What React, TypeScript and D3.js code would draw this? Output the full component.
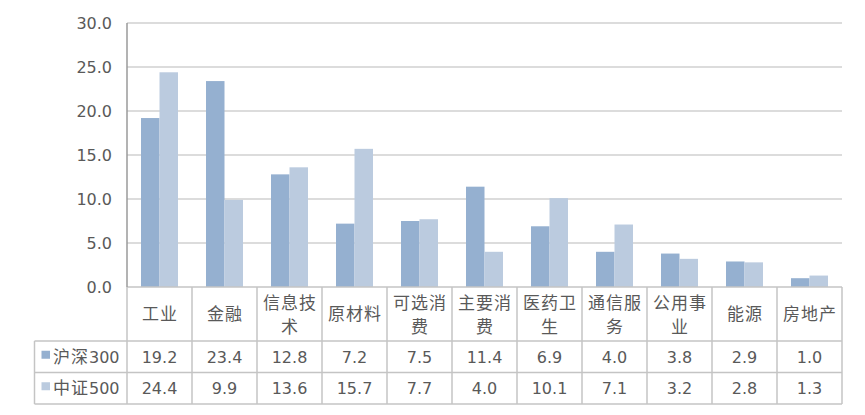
import React from "react";
import * as d3 from "d3";

const categories: string[][] = [
  ["工业"], ["金融"], ["信息技", "术"], ["原材料"], ["可选消", "费"], ["主要消", "费"],
  ["医药卫", "生"], ["通信服", "务"], ["公用事", "业"], ["能源"], ["房地产"],
];
const seriesNames = ["沪深", "中证"];
const seriesNums = ["300", "500"];
const hs300 = [19.2, 23.4, 12.8, 7.2, 7.5, 11.4, 6.9, 4.0, 3.8, 2.9, 1.0];
const zz500 = [24.4, 9.9, 13.6, 15.7, 7.7, 4.0, 10.1, 7.1, 3.2, 2.8, 1.3];
const yTicks = [0, 5, 10, 15, 20, 25, 30];
const colors = ["#95B0D0", "#BBCBDF"];

const W = 865, H = 415;
const left = 127, right = 842, top = 23, bottom = 287;
const rowTops = [287, 341, 372.5, 404];
const tableLeft = 34.5;
const textColor = "#595959";
const numFont = "'DejaVu Sans', 'Noto Sans CJK SC', sans-serif";
const cjkFont = "'Noto Sans CJK SC', sans-serif";
const gridColor = "#D0D0D0";

export default function App() {
  const x = d3.scaleBand<number>().domain(d3.range(categories.length)).range([left, right]).padding(0);
  const y = d3.scaleLinear().domain([0, 30]).range([bottom, top]);
  const bw = 18.5;
  const series = [hs300, zz500];
  const cx = (i: number) => (x(i) as number) + x.bandwidth() / 2;

  return (
    <svg width={W} height={H} style={{ display: "block", position: "absolute", left: 0, top: 0 }}>
      <rect x={0} y={0} width={W} height={H} fill="#fff" />
      {yTicks.map((t) => (
        <g key={t}>
          {t > 0 && (
            <line x1={left} x2={right} y1={y(t)} y2={y(t)} stroke={gridColor} strokeWidth={1.5} />
          )}
          <text x={112} y={y(t)} dy="0.36em" textAnchor="end" fontFamily={numFont} fontSize={16} fill={textColor}>
            {t.toFixed(1)}
          </text>
        </g>
      ))}
      {series.map((vals, s) =>
        vals.map((v, i) => (
          <rect
            key={`${s}-${i}`}
            x={cx(i) - bw + s * bw}
            y={y(v)}
            width={bw}
            height={y(0) - y(v)}
            fill={colors[s]}
          />
        ))
      )}
      {/* table */}
      {/* horizontal lines */}
      <line x1={left} x2={right} y1={rowTops[0]} y2={rowTops[0]} stroke="#C4C4C4" strokeWidth={1.5} />
      {rowTops.slice(1).map((ry, k) => (
        <line key={k} x1={tableLeft} x2={right} y1={ry} y2={ry} stroke="#C4C4C4" strokeWidth={1.5} />
      ))}
      {/* vertical lines */}
      {d3.range(categories.length + 1).map((i) => {
        const xx = i === categories.length ? right : (x(i) as number);
        return <line key={i} x1={xx} x2={xx} y1={rowTops[0]} y2={rowTops[3]} stroke="#C4C4C4" strokeWidth={1.5} />;
      })}
      <line x1={tableLeft} x2={tableLeft} y1={rowTops[1]} y2={rowTops[3]} stroke="#C4C4C4" strokeWidth={1.5} />
      {/* y axis */}
      <line x1={left} x2={left} y1={top} y2={bottom} stroke="#9A9A9A" strokeWidth={1.5} />
      {/* category labels */}
      {categories.map((lines, i) => (
        <text key={i} x={cx(i)} textAnchor="middle" fontFamily={cjkFont} fontSize={17} letterSpacing={1} fill={textColor}>
          {lines.length === 1 ? (
            <tspan x={cx(i) + 0.5} y={314} dy="0.36em">{lines[0]}</tspan>
          ) : (
            lines.map((l, k) => (
              <tspan key={k} x={cx(i) + 0.5} y={k === 0 ? 303 : 327} dy="0.36em">{l}</tspan>
            ))
          )}
        </text>
      ))}
      {/* data rows */}
      {series.map((vals, s) => {
        const ry = (rowTops[s + 1] + rowTops[s + 2]) / 2;
        return (
          <g key={s}>
            <rect x={41.5} y={ry - 6} width={8.5} height={8} fill={colors[s]} />
            <text x={53} y={ry} dy="0.36em" fill={textColor}>
              <tspan fontFamily={cjkFont} fontSize={17} letterSpacing={1}>{seriesNames[s]}</tspan>
              <tspan fontFamily={numFont} fontSize={16}>{seriesNums[s]}</tspan>
            </text>
            {vals.map((v, i) => (
              <text key={i} x={cx(i)} y={ry} dy="0.36em" textAnchor="middle" fontFamily={numFont} fontSize={16} fill={textColor}>
                {v.toFixed(1)}
              </text>
            ))}
          </g>
        );
      })}
    </svg>
  );
}
